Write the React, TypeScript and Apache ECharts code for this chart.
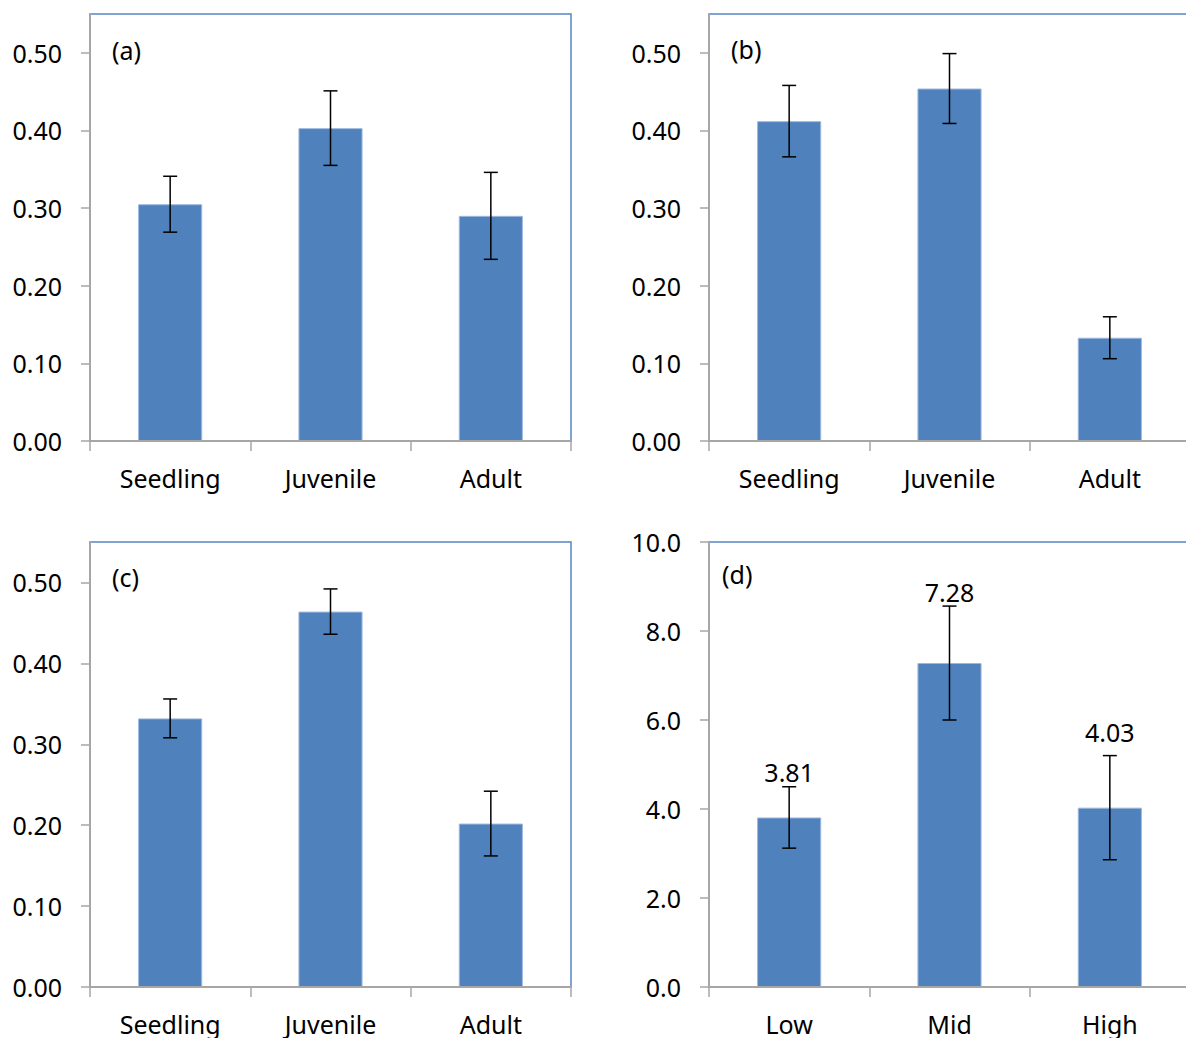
import React, { useEffect, useRef } from "react";
import * as echarts from "echarts";

// Categories
const stageCategories = ["Seedling", "Juvenile", "Adult"];
const levelCategories = ["Low", "Mid", "High"];

// Panel (a)
const meanA = [0.305, 0.403, 0.29];
const errA = [0.036, 0.048, 0.056];
// Panel (b)
const meanB = [0.412, 0.454, 0.133];
const errB = [0.046, 0.045, 0.027];
// Panel (c)
const meanC = [0.332, 0.464, 0.202];
const errC = [0.024, 0.028, 0.04];
// Panel (d)
const meanD = [3.81, 7.28, 4.03];
const errD = [0.69, 1.28, 1.17];

// Tick values
const fractionTicks = [0, 0.1, 0.2, 0.3, 0.4, 0.5];
const countTicks = [0, 2, 4, 6, 8, 10];

const panelNames = ["(a)", "(b)", "(c)", "(d)"];

const FONT = '"Noto Sans", "Open Sans", sans-serif';
const AXIS_GREY = "#a6a6a6";
const BAR_BLUE = "#4f81bd";
const FRAME_BLUE = "#5685c4";

// pixel lift of each value label above its error-bar cap (panel d)
const labelLift = [15, 14, 24];

const gridBoxes = [
  { left: 90, top: 14, width: 481, height: 427 },
  { left: 709, top: 14, width: 481, height: 427 },
  { left: 90, top: 542, width: 481, height: 445 },
  { left: 709, top: 542, width: 481, height: 445 },
];

const labelSpots = [
  { x: 112, y: 50 },
  { x: 731, y: 49 },
  { x: 112, y: 577 },
  { x: 722, y: 574 },
];

function makeX(gridIndex: number, cats: string[]) {
  return {
    type: "category",
    gridIndex,
    data: cats,
    z: 3,
    axisLine: { show: true, lineStyle: { color: AXIS_GREY, width: 2 } },
    axisTick: {
      show: true,
      length: 10,
      interval: 0,
      lineStyle: { color: AXIS_GREY, width: 1.5 },
    },
    axisLabel: {
      margin: 24,
      fontSize: 25,
      fontFamily: FONT,
      color: "#000",
      interval: 0,
    },
    splitLine: { show: false },
  };
}

function makeY(
  gridIndex: number,
  max: number,
  interval: number,
  ticks: number[],
  decimals: number
) {
  return {
    type: "value",
    gridIndex,
    min: 0,
    max,
    interval,
    z: 3,
    splitLine: { show: false },
    axisLine: { show: true, lineStyle: { color: AXIS_GREY, width: 2 } },
    axisTick: {
      show: true,
      length: 9,
      customValues: ticks,
      lineStyle: { color: AXIS_GREY, width: 1.5 },
    },
    axisLabel: {
      customValues: ticks,
      margin: 28,
      fontSize: 25,
      fontFamily: FONT,
      color: "#000",
      formatter: (v: number) => v.toFixed(decimals),
    },
  };
}

function errorRenderer(withLabels: boolean) {
  return (params: any, api: any) => {
    const k = api.value(0);
    const m = api.value(1);
    const e = api.value(2);
    const hi = api.coord([k, m + e]);
    const lo = api.coord([k, m - e]);
    const cx = hi[0];
    const cap = 7;
    const ls = { stroke: "#000", lineWidth: 1.5 };
    const children: any[] = [
      { type: "line", shape: { x1: cx, y1: hi[1], x2: cx, y2: lo[1] }, style: ls },
      { type: "line", shape: { x1: cx - cap, y1: hi[1], x2: cx + cap, y2: hi[1] }, style: ls },
      { type: "line", shape: { x1: cx - cap, y1: lo[1], x2: cx + cap, y2: lo[1] }, style: ls },
    ];
    if (withLabels) {
      children.push({
        type: "text",
        x: cx,
        y: hi[1] - labelLift[k],
        style: {
          text: m.toFixed(2),
          font: `25px ${FONT}`,
          fill: "#000",
          align: "center",
          verticalAlign: "middle",
        },
      });
    }
    return { type: "group", children };
  };
}

export default function App() {
  const ref = useRef<HTMLDivElement>(null);

  useEffect(() => {
    if (!ref.current) return;
    const chart = echarts.init(ref.current, undefined, { renderer: "svg" });

    const panels = [
      { cats: stageCategories, mean: meanA, err: errA, labels: false },
      { cats: stageCategories, mean: meanB, err: errB, labels: false },
      { cats: stageCategories, mean: meanC, err: errC, labels: false },
      { cats: levelCategories, mean: meanD, err: errD, labels: true },
    ];

    const series: any[] = [];
    panels.forEach((p, i) => {
      series.push({
        type: "bar",
        xAxisIndex: i,
        yAxisIndex: i,
        data: p.mean,
        barWidth: "40%",
        z: 2,
        itemStyle: { color: BAR_BLUE, borderColor: "#9db8de", borderWidth: 1 },
      });
      series.push({
        type: "custom",
        xAxisIndex: i,
        yAxisIndex: i,
        data: p.mean.map((m, k) => [k, m, p.err[k]]),
        encode: { x: 0, y: 1 },
        z: 4,
        renderItem: errorRenderer(p.labels),
      });
    });

    chart.setOption({
      animation: false,
      backgroundColor: "#fff",
      grid: gridBoxes.map((g) => ({
        ...g,
        show: true,
        borderColor: FRAME_BLUE,
        borderWidth: 1.5,
        backgroundColor: "transparent",
      })),
      xAxis: panels.map((p, i) => makeX(i, p.cats)),
      yAxis: [
        makeY(0, 0.55, 0.1, fractionTicks, 2),
        makeY(1, 0.55, 0.1, fractionTicks, 2),
        makeY(2, 0.55, 0.1, fractionTicks, 2),
        makeY(3, 10, 2, countTicks, 1),
      ],
      series,
      graphic: panelNames.map((name, i) => ({
        type: "text",
        x: labelSpots[i].x,
        y: labelSpots[i].y,
        z: 10,
        style: {
          text: name,
          font: `25px ${FONT}`,
          fill: "#000",
          align: "left",
          verticalAlign: "middle",
        },
      })),
    });

    return () => chart.dispose();
  }, []);

  return (
    <div
      style={{
        position: "fixed",
        left: 0,
        top: 0,
        width: 1186,
        height: 1038,
        overflow: "hidden",
        background: "#fff",
      }}
    >
      <div ref={ref} style={{ width: 1200, height: 1038 }} />
    </div>
  );
}
